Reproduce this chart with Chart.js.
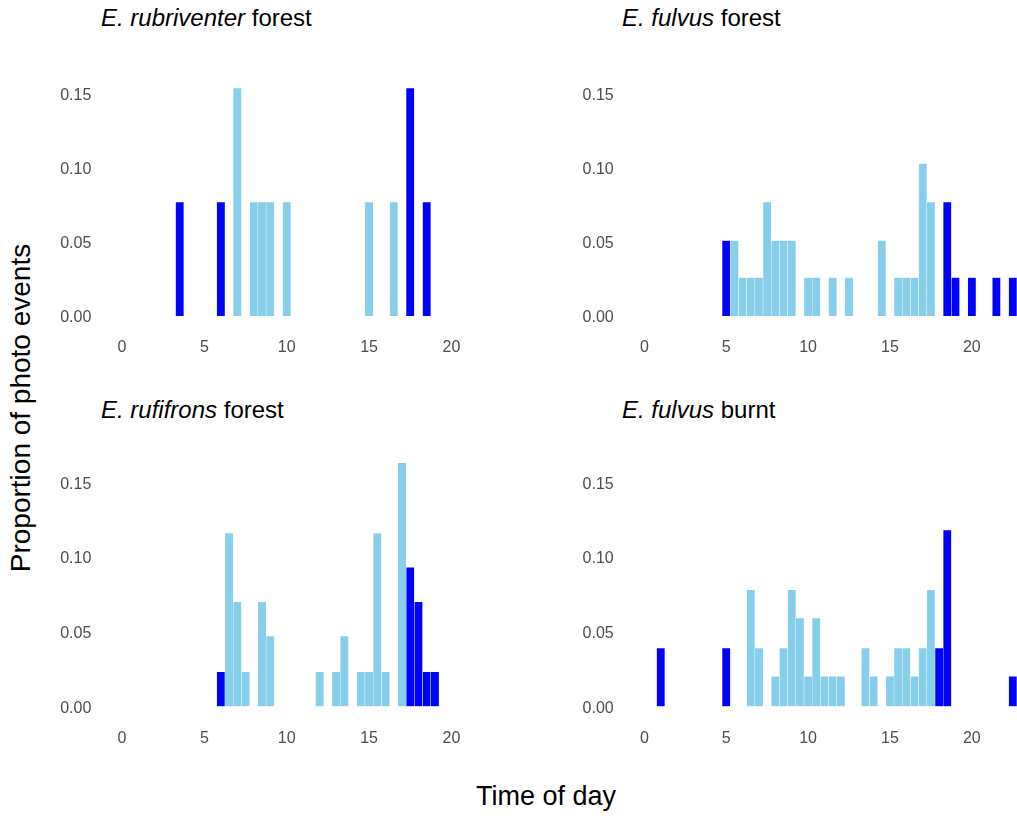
<!DOCTYPE html>
<html>
<head>
<meta charset="utf-8">
<script src="https://cdn.jsdelivr.net/npm/chart.js@4.4.1/dist/chart.umd.min.js"></script>
<style>
  html, body { margin: 0; padding: 0; background: #fff; overflow: hidden; width: 1017px; height: 816px; }
  body { position: relative; font-family: "Liberation Sans", Arial, sans-serif; }
  canvas { position: absolute; }
  .title { position: absolute; font-size: 24px; line-height: 1; color: #000; white-space: nowrap; }
  .axis-title { position: absolute; font-size: 27px; line-height: 1; color: #000; white-space: nowrap; }
</style>
</head>
<body>

<div class="title" style="left:101px; top:6px;"><i>E. rubriventer</i> forest</div>
<div class="title" style="left:622px; top:6px;"><i>E. fulvus</i> forest</div>
<div class="title" style="left:101px; top:398px;"><i>E. rufifrons</i> forest</div>
<div class="title" style="left:622px; top:398px;"><i>E. fulvus</i> burnt</div>

<div class="axis-title" style="left:21px; top:408px; font-size:28px; transform: translate(-50%, -50%) rotate(-90deg);">Proportion of photo events</div>
<div class="axis-title" style="left:546px; top:783px; transform: translateX(-50%);">Time of day</div>

<canvas id="rubChart" width="497" height="291" style="left:40px; top:77px;"></canvas>
<canvas id="fulForestChart" width="494" height="291" style="left:563px; top:77px;"></canvas>
<canvas id="rufChart" width="497" height="308" style="left:40px; top:451px;"></canvas>
<canvas id="fulBurntChart" width="494" height="308" style="left:563px; top:451px;"></canvas>

<script>
// half-hour bins (bin centre, hours) and proportion of photo events
// E. rubriventer forest
const rubDayBins = [7.0, 8.0, 8.5, 9.0, 10.0, 15.0, 16.5];
const rubDayProp = [0.154, 0.077, 0.077, 0.077, 0.077, 0.077, 0.077];
const rubNightBins = [3.5, 6.0, 17.5, 18.5];
const rubNightProp = [0.077, 0.077, 0.154, 0.077];

// E. fulvus forest
const fulForestDayBins = [5.5, 6.0, 6.5, 7.0, 7.5, 8.0, 8.5, 9.0, 10.0, 10.5, 11.5, 12.5, 14.5, 15.5, 16.0, 16.5, 17.0, 17.5];
const fulForestDayProp = [0.051, 0.026, 0.026, 0.026, 0.077, 0.051, 0.051, 0.051, 0.026, 0.026, 0.026, 0.026, 0.051, 0.026, 0.026, 0.026, 0.103, 0.077];
const fulForestNightBins = [5.0, 18.5, 19.0, 20.0, 21.5, 22.5];
const fulForestNightProp = [0.051, 0.077, 0.026, 0.026, 0.026, 0.026];

// E. rufifrons forest
const rufDayBins = [6.5, 7.0, 7.5, 8.5, 9.0, 12.0, 13.0, 13.5, 14.5, 15.0, 15.5, 16.0, 17.0];
const rufDayProp = [0.116, 0.070, 0.023, 0.070, 0.047, 0.023, 0.023, 0.047, 0.023, 0.023, 0.116, 0.023, 0.163];
const rufNightBins = [6.0, 17.5, 18.0, 18.5, 19.0];
const rufNightProp = [0.023, 0.093, 0.070, 0.023, 0.023];

// E. fulvus burnt
const fulBurntDayBins = [6.5, 7.0, 8.0, 8.5, 9.0, 9.5, 10.0, 10.5, 11.0, 11.5, 12.0, 13.5, 14.0, 15.0, 15.5, 16.0, 16.5, 17.0, 17.5];
const fulBurntDayProp = [0.078, 0.039, 0.020, 0.039, 0.078, 0.059, 0.020, 0.059, 0.020, 0.020, 0.020, 0.039, 0.020, 0.020, 0.039, 0.039, 0.020, 0.039, 0.078];
const fulBurntNightBins = [1.0, 5.0, 18.0, 18.5, 22.5];
const fulBurntNightProp = [0.039, 0.039, 0.039, 0.118, 0.020];

// tick labels
const xTicks = [0, 5, 10, 15, 20];
const yTicks = [0, 0.05, 0.10, 0.15];

function toPoints(bins, props) {
  return bins.map((b, i) => ({ x: b, y: props[i] }));
}

function makeHist(id, dayBins, dayProp, nightBins, nightProp, yMin, yMax, axisW, axisH) {
  const tickFont = { family: '"Liberation Sans", Arial, sans-serif', size: 16 };
  new Chart(document.getElementById(id), {
    type: 'bar',
    data: {
      datasets: [{
        label: 'Day',
        data: toPoints(dayBins, dayProp),
        backgroundColor: '#87CEEB',
        borderColor: 'rgba(255,255,255,0.8)',
        borderWidth: 0.5
      }, {
        label: 'Night',
        data: toPoints(nightBins, nightProp),
        backgroundColor: '#0000FF',
        borderColor: 'rgba(255,255,255,0.8)',
        borderWidth: 0.5
      }]
    },
    options: {
      responsive: false,
      animation: false,
      events: [],
      barPercentage: 1,
      categoryPercentage: 1,
      layout: { padding: 0 },
      plugins: {
        legend: { display: false },
        tooltip: { enabled: false }
      },
      scales: {
        x: {
          type: 'linear',
          min: -1.2,
          max: 25.2,
          offset: false,
          stacked: true,
          grid: { display: false, drawTicks: false },
          border: { display: false },
          ticks: { font: tickFont, color: '#4d4d4d', padding: 11, maxRotation: 0, autoSkip: false },
          afterBuildTicks: s => { s.ticks = xTicks.map(v => ({ value: v })); },
          afterFit: s => { s.height = axisH; s.paddingLeft = 0; s.paddingRight = 0; }
        },
        y: {
          min: yMin,
          max: yMax,
          stacked: true,
          grid: { display: false, drawTicks: false },
          border: { display: false },
          ticks: {
            font: tickFont,
            color: '#4d4d4d',
            padding: 11,
            labelOffset: 2,
            callback: v => v.toFixed(2)
          },
          afterBuildTicks: s => { s.ticks = yTicks.map(v => ({ value: v })); },
          afterFit: s => { s.width = axisW; s.paddingTop = 0; s.paddingBottom = 0; }
        }
      }
    }
  });
}

makeHist('rubChart', rubDayBins, rubDayProp, rubNightBins, rubNightProp, -0.0077, 0.1615, 62.3, 40.6);
makeHist('fulForestChart', fulForestDayBins, fulForestDayProp, fulForestNightBins, fulForestNightProp, -0.0077, 0.1615, 61.7, 40.6);
makeHist('rufChart', rufDayBins, rufDayProp, rufNightBins, rufNightProp, -0.0081, 0.1709, 62.3, 40.6);
makeHist('fulBurntChart', fulBurntDayBins, fulBurntDayProp, fulBurntNightBins, fulBurntNightProp, -0.0081, 0.1709, 61.7, 40.6);
</script>
</body>
</html>
